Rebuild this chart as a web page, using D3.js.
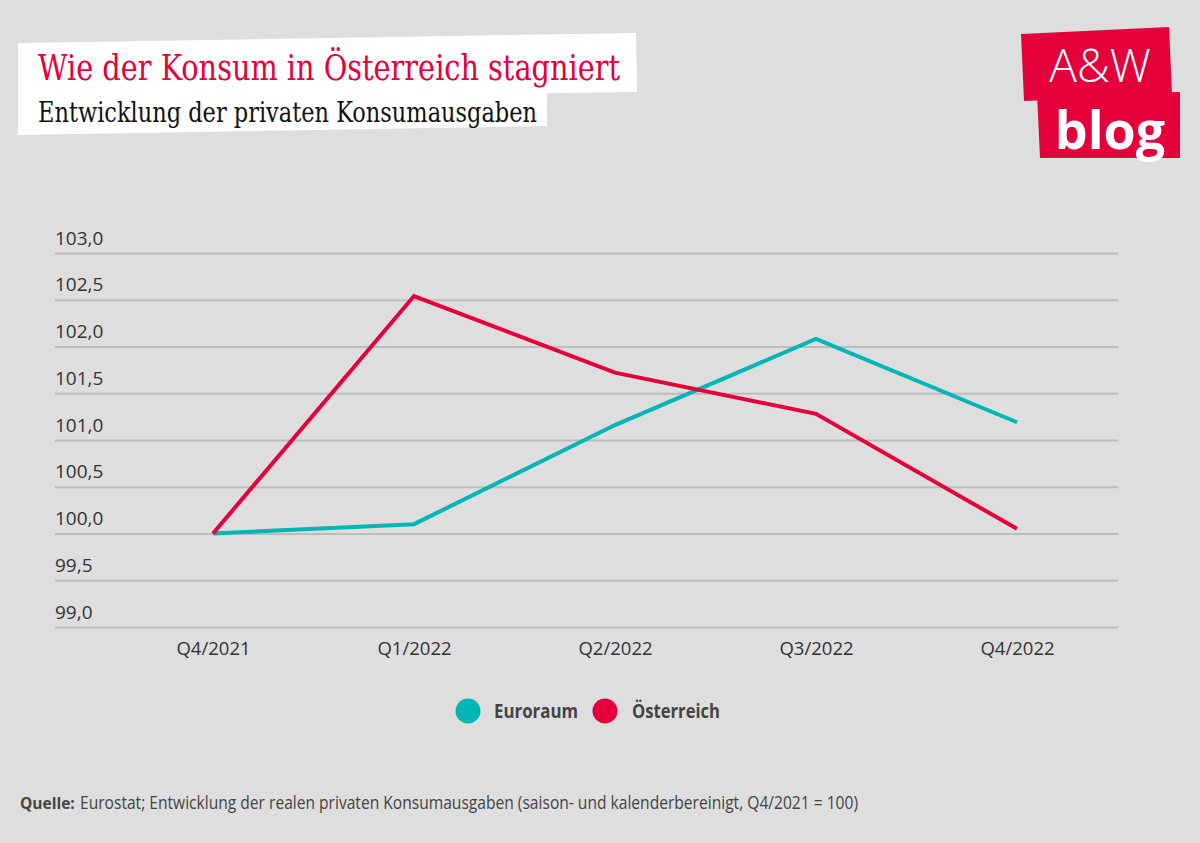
<!DOCTYPE html>
<html><head><meta charset="utf-8">
<script src="https://cdn.jsdelivr.net/npm/d3@7"></script>
<style>
body{margin:0;background:#dedede;}
svg{display:block;}
</style></head><body>
<svg id="c" width="1200" height="843"></svg>
<script>
const categories = ["Q4/2021","Q1/2022","Q2/2022","Q3/2022","Q4/2022"];
const euroraum = [100.0, 100.1, 101.16, 102.08, 101.19];
const oesterreich = [100.0, 102.54, 101.72, 101.28, 100.05];
const yTicks = [99.0, 99.5, 100.0, 100.5, 101.0, 101.5, 102.0, 102.5, 103.0];
const seriesNames = ["Euroraum","Österreich"];
const colors = ["#00b5b5","#e4003b"];

const svg = d3.select("#c");
svg.append("rect").attr("width",1200).attr("height",843).attr("fill","#dedede");

const sans = "'Open Sans','Noto Sans',sans-serif";
const serif = "'DejaVu Serif Condensed','DejaVu Serif',serif";

// title boxes
svg.append("path").attr("d","M18,43 L636,33 L637,92 L18,100 Z").attr("fill","#fff");
svg.append("path").attr("d","M18,97 L547,92 L547,126 L18,135 Z").attr("fill","#fff");
svg.append("text").attr("x",38).attr("y",80).attr("font-family",serif).attr("font-size",35)
  .attr("textLength",582).attr("lengthAdjust","spacingAndGlyphs")
  .attr("fill","#e4003b").text("Wie der Konsum in Österreich stagniert");
svg.append("text").attr("x",38).attr("y",122).attr("font-family",serif).attr("font-size",27)
  .attr("textLength",499).attr("lengthAdjust","spacingAndGlyphs")
  .attr("fill","#111").text("Entwicklung der privaten Konsumausgaben");

// logo
svg.append("path").attr("d","M1021,34 L1169,27 L1172,95 L1024,101 Z").attr("fill","#e4003b");
svg.append("path").attr("d","M1037,94 L1180,92 L1180,158 L1040,158 Z").attr("fill","#e4003b");
svg.append("text").attr("x",1100).attr("y",82).attr("text-anchor","middle").attr("font-family","'Open Sans',sans-serif")
  .attr("font-weight",300).attr("font-size",46).attr("fill","#fff").text("A&W");
svg.append("text").attr("x",1110).attr("y",149).attr("text-anchor","middle").attr("font-family","'Open Sans',sans-serif")
  .attr("font-weight",700).attr("font-size",52).attr("fill","#fff").text("blog");

// scales
const x = d3.scalePoint().domain(categories).range([213,1017]);
const y = d3.scaleLinear().domain([99,103]).range([627,253]);

const yAxis = d3.axisLeft(y).tickValues(yTicks).tickSize(0).tickFormat(d=>d3.format(".1f")(d).replace(".",","));
const gy = svg.append("g").attr("transform","translate(55,0)").call(yAxis);
gy.select(".domain").remove();
gy.selectAll(".tick line").attr("x2",1063).attr("stroke","#bcbcbc").attr("stroke-width",2);
gy.selectAll(".tick text").attr("x",0).attr("dy",-9).attr("text-anchor","start")
  .attr("font-family",sans).attr("font-size",19).attr("fill","#333");

const xAxis = d3.axisBottom(x).tickSize(0);
const gx = svg.append("g").attr("transform","translate(0,627)").call(xAxis);
gx.select(".domain").remove();
gx.selectAll(".tick text").attr("dy",0).attr("y",28).attr("font-family",sans).attr("font-size",18.5).attr("fill","#333");

const line = d3.line().x((d,i)=>x(categories[i])).y(d=>y(d));
[euroraum, oesterreich].forEach((s,k)=>{
  svg.append("path").datum(s).attr("d",line).attr("fill","none").attr("stroke",colors[k])
    .attr("stroke-width",4).attr("stroke-linejoin","miter");
});

// legend
const leg = [{cx:468,tx:494,w:84},{cx:605,tx:632,w:88}];
seriesNames.forEach((n,k)=>{
  svg.append("circle").attr("cx",leg[k].cx).attr("cy",711).attr("r",12.5).attr("fill",colors[k]);
  svg.append("text").attr("x",leg[k].tx).attr("y",718).attr("font-family",sans).attr("font-weight",700)
    .attr("font-size",20).attr("textLength",leg[k].w).attr("lengthAdjust","spacingAndGlyphs")
    .attr("fill","#444").text(n);
});

// source
svg.append("text").attr("x",20).attr("y",809).attr("font-family",sans).attr("font-size",15.5).attr("font-weight",700)
  .attr("fill","#444").text("Quelle:");
svg.append("text").attr("x",80).attr("y",809).attr("font-family",sans).attr("font-size",18)
  .attr("textLength",778).attr("lengthAdjust","spacingAndGlyphs").attr("fill","#444")
  .text("Eurostat; Entwicklung der realen privaten Konsumausgaben (saison- und kalenderbereinigt, Q4/2021 = 100)");
</script></body></html>
